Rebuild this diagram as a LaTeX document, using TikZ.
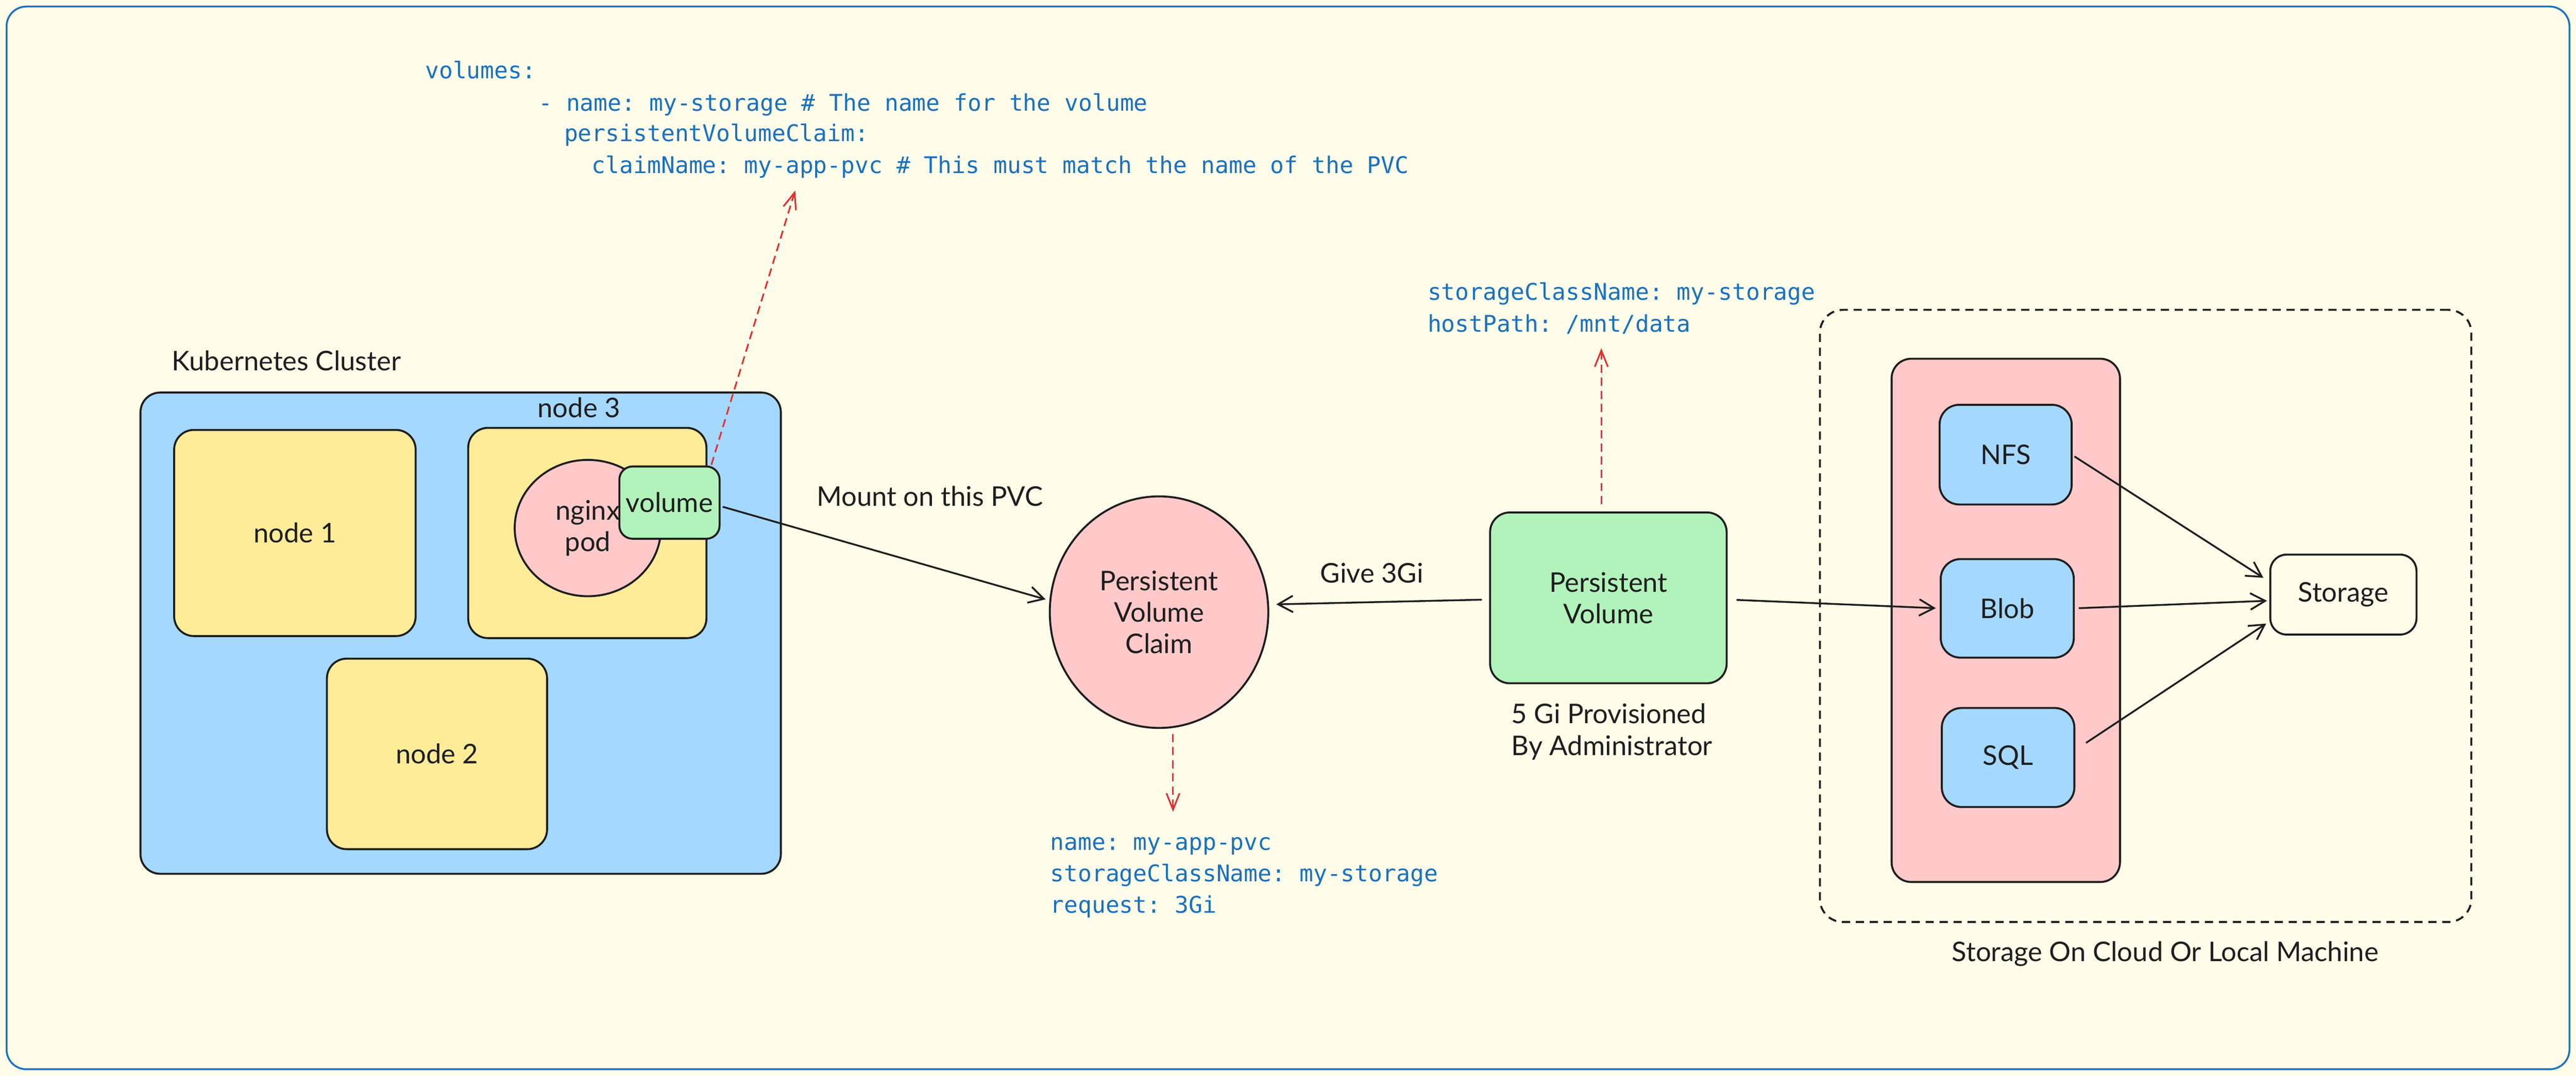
\documentclass[tikz,border=0pt]{standalone}
\usepackage{fontspec}
\setmainfont{Lato}
\setmonofont{DejaVu Sans Mono}
\usetikzlibrary{arrows.meta,shapes.geometric}
\definecolor{bg}{HTML}{FFFDE9}
\definecolor{frameblue}{HTML}{1971C2}
\definecolor{codeblue}{HTML}{1971C2}
\definecolor{ink}{HTML}{1E1E1E}
\definecolor{fblue}{HTML}{A5D8FF}
\definecolor{fyellow}{HTML}{FFEC99}
\definecolor{fpink}{HTML}{FFC9C9}
\definecolor{fgreen}{HTML}{B2F2BB}
\definecolor{fred}{HTML}{E03131}
\newcommand\handfont{\fontsize{16.5}{19.2}\selectfont}
\newcommand\codefont{\ttfamily\fontsize{14}{19.3}\selectfont}
\begin{document}
\begin{tikzpicture}[x=1pt,y=-1pt,
  every node/.style={inner sep=0pt, outer sep=0pt},
  handtext/.style={text=ink, font=\handfont},
  codetext/.style={text=codeblue, font=\codefont, anchor=base west},
  sbox/.style={draw=ink, line width=1.2pt, rounded corners=#1, align=center, text=ink, font=\handfont},
  sbox/.default=12pt,
  sell/.style={ellipse, draw=ink, line width=1.2pt, align=center, text=ink, font=\handfont},
  conn/.style={draw=ink, line width=1.1pt, -{Straight Barb[length=9pt,width=10pt]}},
  note/.style={draw=fred, line width=1pt, dash pattern=on 5pt off 3pt, -{Straight Barb[length=10pt,width=8pt]}}
]
\useasboundingbox (0,0) rectangle (1568,655);
\fill[bg] (0,0) rectangle (1568,655);
\draw[frameblue, line width=1.1pt, rounded corners=12pt] (4,4) rectangle (1564,651);

% Kubernetes cluster
\node[handtext, anchor=base west] (kclabel) at (104.7,225.6) {Kubernetes Cluster};
\node[sbox, fill=fblue, minimum width=389.8pt, minimum height=293pt] (cluster) at (280.4,385.5) {};
\node[sbox, fill=fyellow, minimum width=147pt, minimum height=125.5pt] (n1) at (179.5,324.5) {node 1};
\node[sbox, fill=fyellow, minimum width=145pt, minimum height=128pt] (n3) at (357.5,324.5) {};
\node[handtext, anchor=base] (n3label) at (352.4,254.1) {node 3};
\node[sbox, fill=fyellow, minimum width=134pt, minimum height=116pt] (n2) at (266,459) {node 2};
\node[sell, fill=fpink, minimum width=89pt, minimum height=83pt] (pod) at (357.8,321.5) {nginx\\pod};
\node[sbox=8pt, fill=fgreen, minimum width=61pt, minimum height=44pt] (vol) at (407.5,306) {volume};

% volume yaml
\node[codetext] (yA) at (258.8,47.8) {volumes:};
\node[codetext] (yB) at (327.8,67.5) {- name: my-storage \# The name for the volume};
\node[codetext] (yC) at (343.4,86.2) {persistentVolumeClaim:};
\node[codetext] (yD) at (360.3,105.6) {claimName: my-app-pvc \# This must match the name of the PVC};
\coordinate (volnote) at (484,116);

% PVC
\node[sell, fill=fpink, minimum width=133pt, minimum height=141pt] (pvc) at (705.5,372.7) {Persistent\\Volume\\Claim};
\node[handtext, anchor=base west] (mountlbl) at (497.1,308.1) {Mount on this PVC};
\node[codetext] (pcA) at (639.3,517.7) {name: my-app-pvc};
\node[codetext] (pcB) at (639.3,536.8) {storageClassName: my-storage};
\node[codetext] (pcC) at (639.3,556) {request: 3Gi};
\coordinate (pvcnote) at (714,494.3);

% PV
\node[sbox, fill=fgreen, minimum width=144pt, minimum height=104pt] (pv) at (979,364) {Persistent\\Volume};
\node[handtext, anchor=base] (givelbl) at (835,354.8) {Give 3Gi};
\node[handtext, anchor=north west, align=left] (provlbl) at (920,428.4) {5 Gi Provisioned\\By Administrator};
\node[codetext] (pvA) at (869,182.8) {storageClassName: my-storage};
\node[codetext] (pvB) at (869,202.1) {hostPath: /mnt/data};
\coordinate (pvnote) at (974.7,212);

% storage
\node[draw=ink, line width=1.2pt, dash pattern=on 5pt off 3.5pt, rounded corners=14pt, minimum width=396.5pt, minimum height=372.7pt] (cloud) at (1306,375) {};
\node[handtext, anchor=base] (cloudlbl) at (1318,585.3) {Storage On Cloud Or Local Machine};
\node[sbox, fill=fpink, minimum width=139pt, minimum height=318.6pt] (pink) at (1220.9,377.7) {};
\node[sbox, fill=fblue, minimum width=80.4pt, minimum height=60.7pt] (nfs) at (1220.8,276.8) {NFS};
\node[sbox, fill=fblue, minimum width=81pt, minimum height=60pt] (blob) at (1221.8,370.4) {Blob};
\node[sbox, fill=fblue, minimum width=80.7pt, minimum height=60.3pt] (sql) at (1222.3,461.2) {SQL};
\node[sbox=10pt, minimum width=89pt, minimum height=48.7pt] (st) at (1426.4,362) {Storage};

% connectors
\draw[conn, shorten <=2pt, shorten >=3pt] ([yshift=-2pt]vol.east) -- (pvc.174);
\draw[conn, shorten <=5pt, shorten >=5pt] ([yshift=-1pt]pv.west) -- (pvc.4);
\draw[conn, shorten <=6pt, shorten >=3pt] ([yshift=-1pt]pv.east) -- (blob.west);
\draw[conn, shorten <=2pt, shorten >=5pt] (nfs.east) -- ([yshift=7.5pt]st.west);
\draw[conn, shorten <=3pt, shorten >=2pt] (blob.east) -- ([yshift=-3.7pt]st.west);
\draw[conn, shorten <=8.5pt, shorten >=3pt] ([yshift=4.2pt]sql.east) -- ([yshift=-16pt]st.west);

\draw[note] ([xshift=-5pt,yshift=1pt]vol.north east) -- (volnote);
\draw[note] ([xshift=8.5pt,yshift=-3.6pt]pvc.south) -- (pvcnote);
\draw[note] ([xshift=-4.3pt,yshift=5pt]pv.north) -- (pvnote);
\end{tikzpicture}
\end{document}
